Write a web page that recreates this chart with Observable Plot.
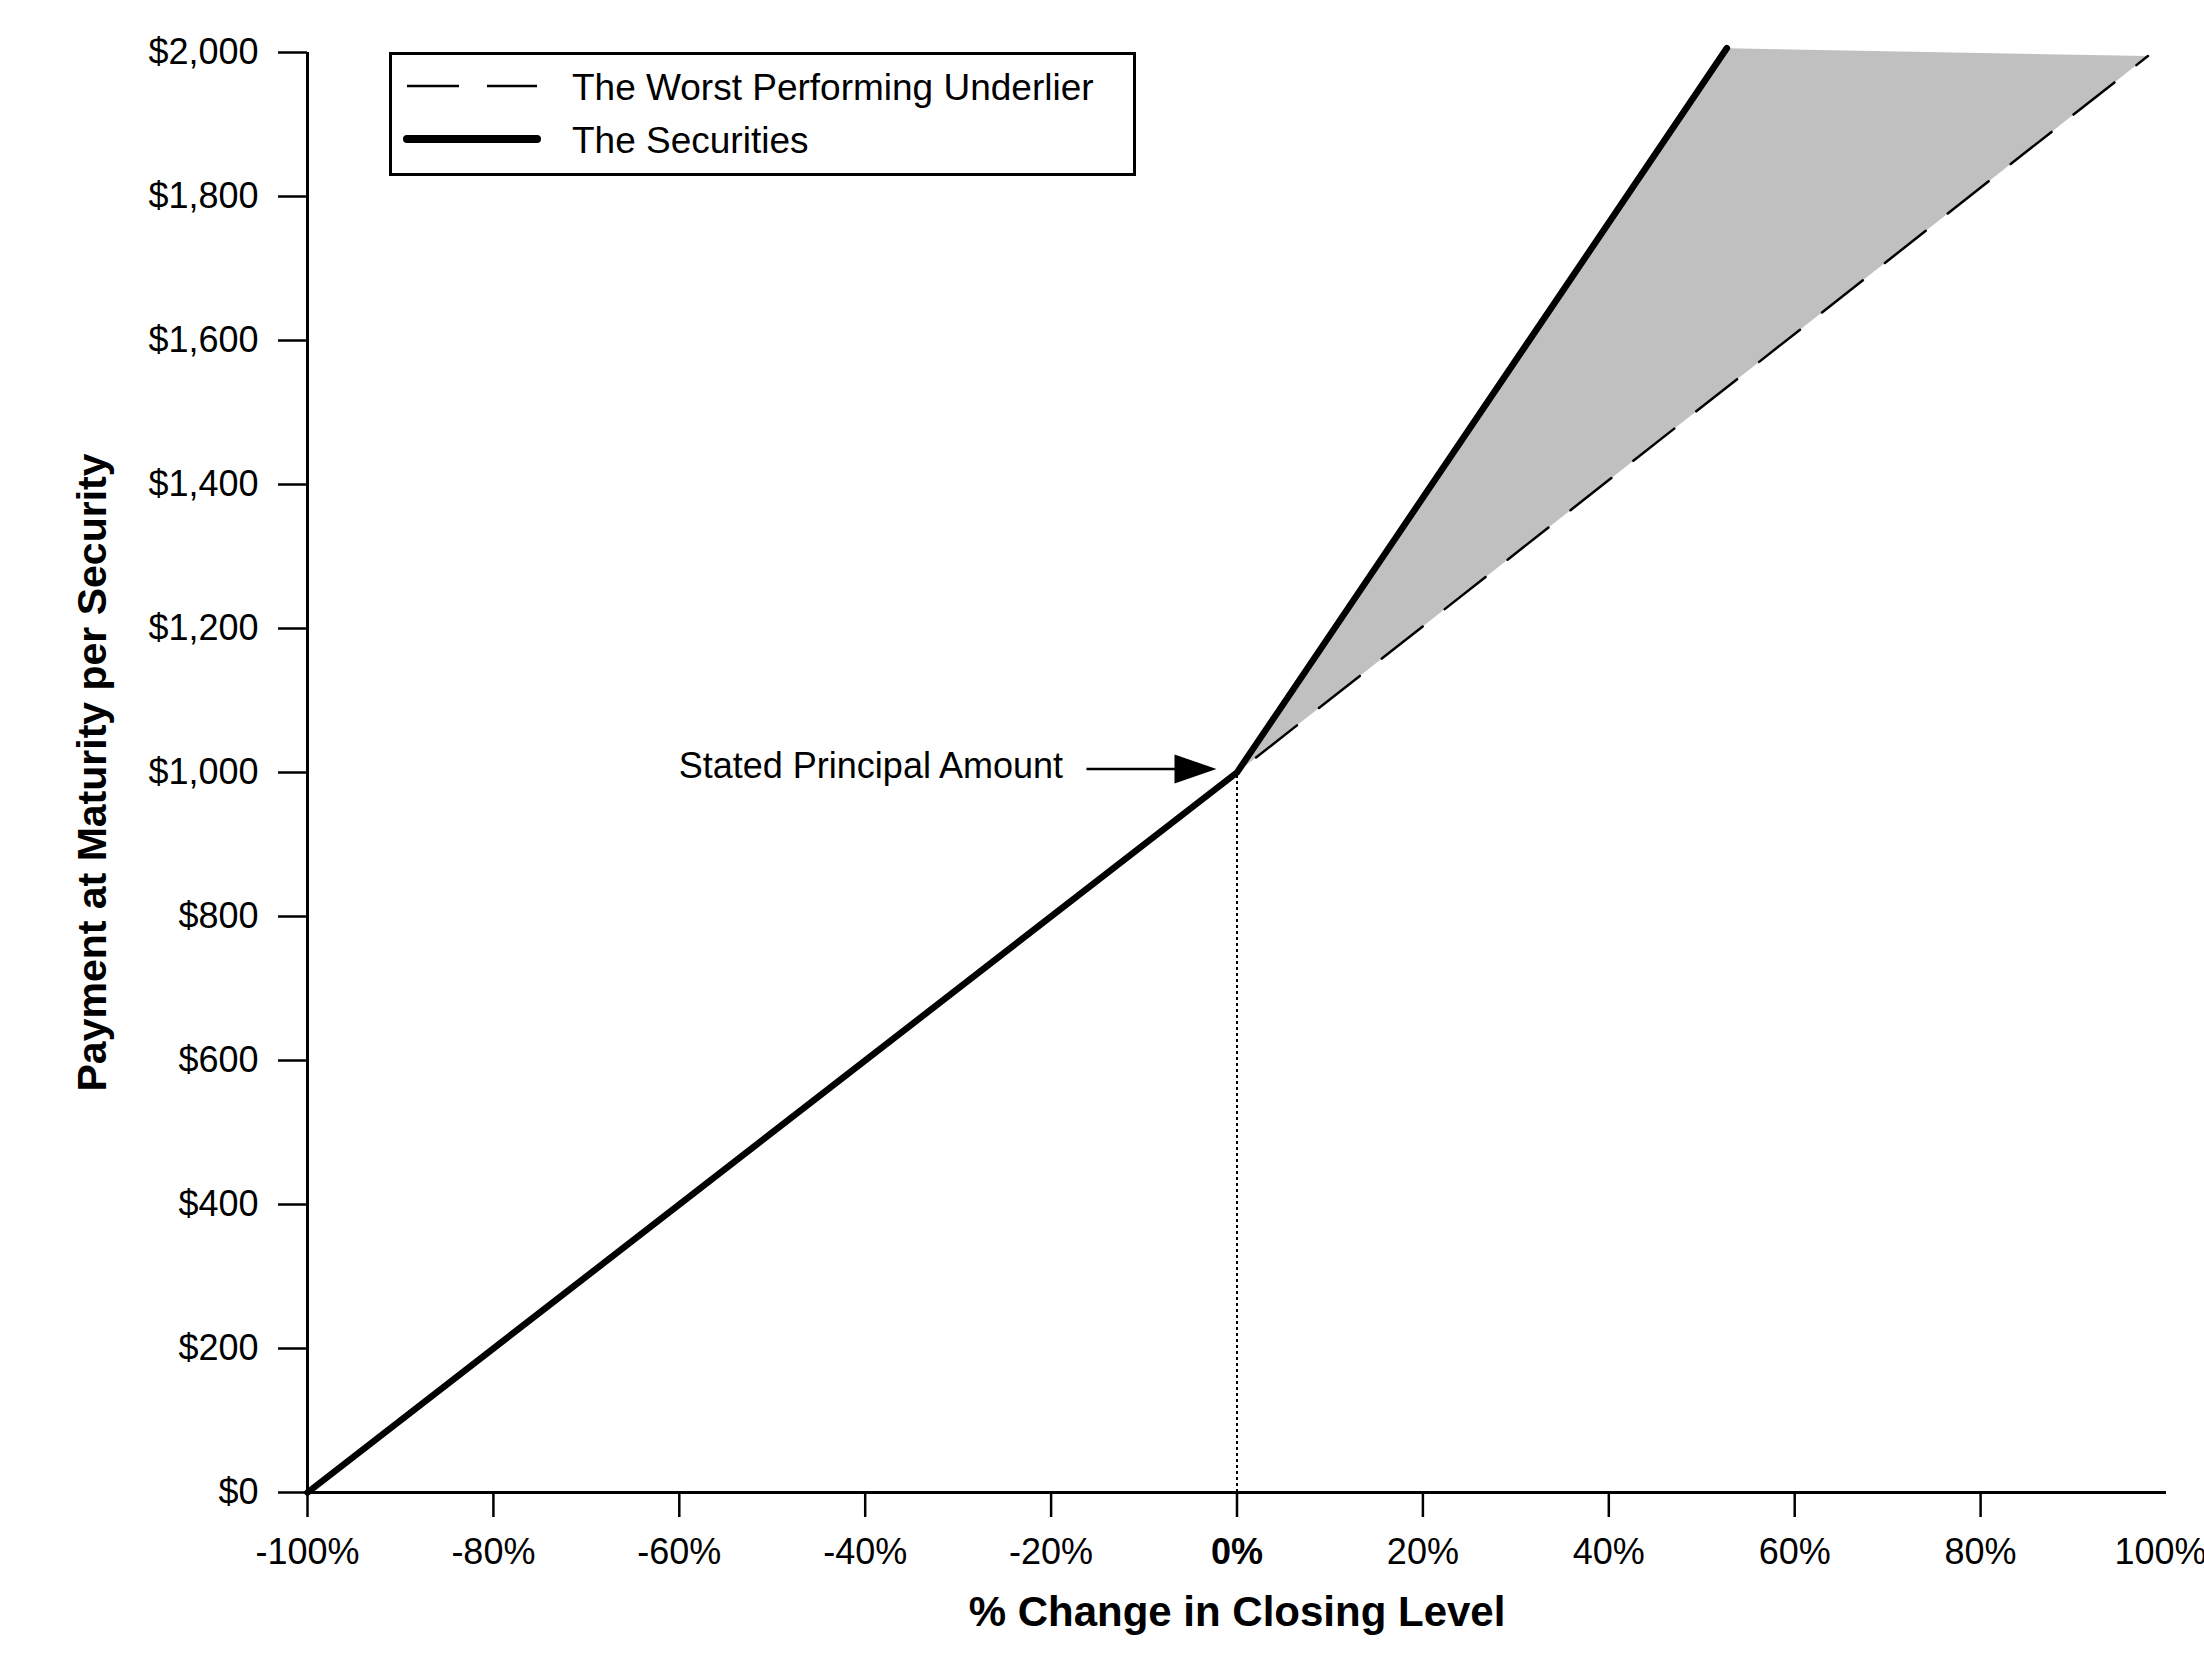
<!DOCTYPE html>
<html><head><meta charset="utf-8">
<script src="https://cdn.jsdelivr.net/npm/d3@7"></script>
<script src="https://cdn.jsdelivr.net/npm/@observablehq/plot@0.6"></script>
<style>
html,body{margin:0;padding:0;background:#fff;}
#wrap{position:relative;width:2204px;height:1664px;font-family:"Liberation Sans",Arial,sans-serif;}
#legend{position:absolute;pointer-events:none;}
</style></head><body><div id="wrap"></div>
<script>
// ---- data ----
const xDomain = [-100, 100];
const yDomain = [0, 2000];
const xTicks = [-100, -80, -60, -40, -20, 0, 20, 40, 60, 80, 100];
const yTicks = [0, 200, 400, 600, 800, 1000, 1200, 1400, 1600, 1800, 2000];
const underlierPct = [-100, 0, 98];
const underlierPay = [0, 1000, 1995];
const securitiesPct = [-100, 0, 52.7];
const securitiesPay = [0, 1000, 2006];
const shadePct = [0, 52.7, 98];
const shadePay = [1000, 2006, 1995];
const principalPct = [0];
const principalPay = [1000];
const seriesNames = ["The Worst Performing Underlier", "The Securities"];
const annotationText = "Stated Principal Amount";
const xTitle = "% Change in Closing Level";
const yTitle = "Payment at Maturity per Security";

const rows = (xs, ys) => xs.map((x, i) => ({x, y: ys[i]}));
const underlier = rows(underlierPct, underlierPay);
const securities = rows(securitiesPct, securitiesPay);
const shade = rows(shadePct, shadePay);
const principal = rows(principalPct, principalPay);

const FONT = '"Liberation Sans", Arial, sans-serif';
const pctFmt = d => `${d}%`;
const lastTick = xTicks[xTicks.length - 1];

function arrowMark(index, scales) {
  const ns = "http://www.w3.org/2000/svg";
  const g = document.createElementNS(ns, "g");
  principal.forEach(p => {
    const cx = scales.x(p.x), cy = scales.y(p.y) - 3;
    const line = document.createElementNS(ns, "line");
    line.setAttribute("x1", cx - 150); line.setAttribute("x2", cx - 60);
    line.setAttribute("y1", cy); line.setAttribute("y2", cy);
    line.setAttribute("stroke", "black"); line.setAttribute("stroke-width", 2.5);
    g.appendChild(line);
    const head = document.createElementNS(ns, "path");
    head.setAttribute("d", `M${cx - 62},${cy - 14.5}L${cx - 20},${cy}L${cx - 62},${cy + 14.5}Z`);
    head.setAttribute("fill", "black");
    g.appendChild(head);
  });
  return g;
}

const axisCommon = {tickSize: 25, tickPadding: 21, strokeWidth: 2.5, fontSize: 36, label: null, tickFormat: pctFmt};

const chart = Plot.plot({
  width: 2204,
  height: 1664,
  marginLeft: 307,
  marginRight: 38,
  marginTop: 52,
  marginBottom: 172,
  style: {fontFamily: FONT, fontSize: "36px", background: "#fff", color: "#000", overflow: "visible"},
  x: {domain: xDomain, label: null},
  y: {domain: yDomain, label: null},
  marks: [
    Plot.line(shade, {x: "x", y: "y", fill: "#c0c0c0", stroke: "none"}),
    Plot.line(underlier, {x: "x", y: "y", stroke: "black", strokeWidth: 2.5, strokeDasharray: "52,28", strokeLinecap: "round"}),
    Plot.line(securities, {x: "x", y: "y", stroke: "black", strokeWidth: 6.5, strokeLinecap: "round", strokeLinejoin: "round"}),
    Plot.ruleX(principal, {x: "x", y1: yDomain[0], y2: "y", stroke: "black", strokeWidth: 2, strokeDasharray: "3,3"}),
    Plot.ruleX([xDomain[0]], {y1: yDomain[0], y2: yDomain[1], stroke: "black", strokeWidth: 3}),
    Plot.ruleY([yDomain[0]], {x1: xDomain[0], x2: xDomain[1], stroke: "black", strokeWidth: 3}),
    Plot.axisY({ticks: yTicks, tickFormat: d3.format("$,"), tickSize: 29, tickPadding: 20, strokeWidth: 2.5, fontSize: 36, label: null}),
    Plot.axisX({...axisCommon, ticks: xTicks.filter(d => d !== 0 && d !== lastTick)}),
    Plot.axisX({...axisCommon, ticks: [lastTick], textAnchor: "end", dx: 40}),
    Plot.axisX({...axisCommon, ticks: xTicks.filter(d => d === 0), fontWeight: "bold"}),
    Plot.text([xTitle], {text: d => d, frameAnchor: "bottom", textAnchor: "middle", dy: 120, lineAnchor: "middle", fontWeight: "bold", fontSize: 42}),
    Plot.text([yTitle], {text: d => d, frameAnchor: "left", textAnchor: "middle", rotate: -90, dx: -215, lineAnchor: "middle", fontWeight: "bold", fontSize: 41}),
    Plot.text(principal, {x: "x", y: "y", text: () => annotationText, textAnchor: "end", dx: -174, dy: -6, lineAnchor: "middle", fontSize: 36}),
    arrowMark
  ]
});

const wrap = document.getElementById("wrap");
wrap.appendChild(chart);

// legend overlay (inside the plot frame, top-left)
const lg = d3.select(wrap).append("svg").attr("id", "legend")
  .attr("width", 747).attr("height", 124)
  .style("left", "389px").style("top", "52px")
  .style("font-family", FONT);
lg.append("rect").attr("x", 1.5).attr("y", 1.5).attr("width", 744).attr("height", 121)
  .attr("fill", "#fff").attr("stroke", "black").attr("stroke-width", 3);
const styles = [
  {dash: "52,28", w: 2.5, cap: "butt"},
  {dash: null, w: 8, cap: "round"}
];
seriesNames.forEach((name, i) => {
  const y = 34 + i * 53;
  lg.append("line").attr("x1", 18).attr("x2", 148).attr("y1", y).attr("y2", y)
    .attr("stroke", "black").attr("stroke-width", styles[i].w)
    .attr("stroke-linecap", styles[i].cap)
    .attr("stroke-dasharray", styles[i].dash);
  lg.append("text").attr("x", 183).attr("y", y + 14).attr("font-size", 37).attr("fill", "black").text(name);
});
</script></body></html>
